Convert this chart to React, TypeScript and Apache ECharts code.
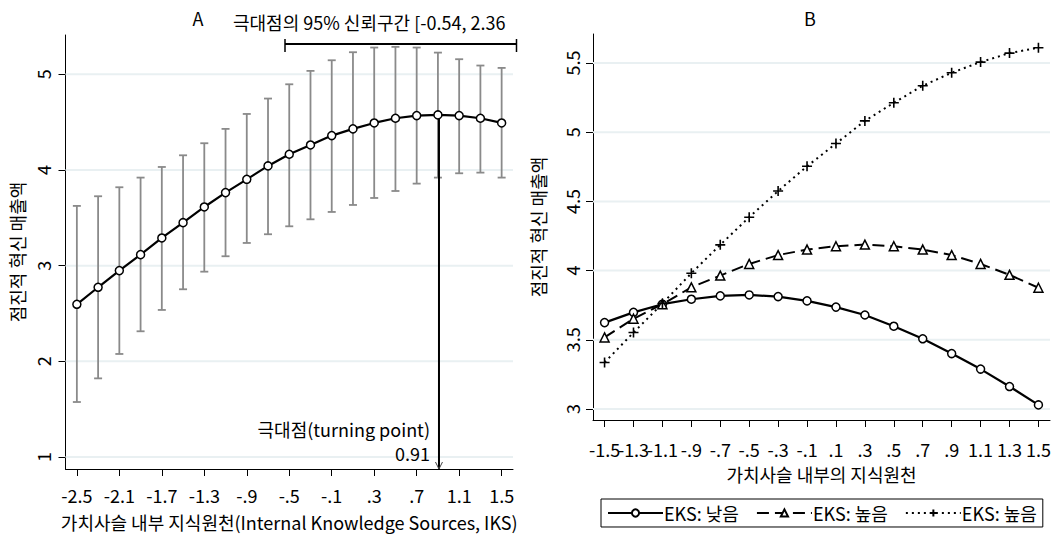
import React, { useEffect, useRef } from 'react';
import * as echarts from 'echarts';

// ---------- Panel A data ----------
const iksA = [-2.5, -2.3, -2.1, -1.9, -1.7, -1.5, -1.3, -1.1, -0.9, -0.7, -0.5, -0.3, -0.1, 0.1, 0.3, 0.5, 0.7, 0.9, 1.1, 1.3, 1.5];
const salesA = [2.596, 2.774, 2.948, 3.115, 3.289, 3.449, 3.613, 3.763, 3.902, 4.042, 4.164, 4.261, 4.359, 4.429, 4.491, 4.54, 4.568, 4.575, 4.568, 4.54, 4.491];
const upperA = [3.624, 3.725, 3.819, 3.92, 4.031, 4.153, 4.279, 4.429, 4.585, 4.746, 4.895, 5.035, 5.146, 5.23, 5.279, 5.286, 5.279, 5.226, 5.157, 5.091, 5.066];
const lowerA = [1.575, 1.822, 2.077, 2.314, 2.537, 2.753, 2.937, 3.098, 3.237, 3.328, 3.411, 3.484, 3.561, 3.634, 3.707, 3.78, 3.857, 3.92, 3.965, 3.972, 3.92];
const xTicksA = [-2.5, -2.1, -1.7, -1.3, -0.9, -0.5, -0.1, 0.3, 0.7, 1.1, 1.5];
const yTicksA = [1, 2, 3, 4, 5];
const turningPoint = 0.91;
const turningValue = 4.575;
const ciTurning = [-0.54, 2.36];

// ---------- Panel B data ----------
const iksB = [-1.5, -1.3, -1.1, -0.9, -0.7, -0.5, -0.3, -0.1, 0.1, 0.3, 0.5, 0.7, 0.9, 1.1, 1.3, 1.5];
const eksLow = [3.624, 3.698, 3.757, 3.793, 3.817, 3.824, 3.812, 3.781, 3.736, 3.679, 3.598, 3.507, 3.4, 3.288, 3.162, 3.029];
const eksHigh = [3.517, 3.652, 3.757, 3.879, 3.964, 4.048, 4.112, 4.152, 4.176, 4.188, 4.176, 4.152, 4.112, 4.048, 3.969, 3.876];
const eksHigh2 = [3.336, 3.552, 3.762, 3.981, 4.186, 4.386, 4.575, 4.754, 4.918, 5.082, 5.213, 5.336, 5.43, 5.507, 5.572, 5.611];
const xTicksB = [-1.5, -1.3, -1.1, -0.9, -0.7, -0.5, -0.3, -0.1, 0.1, 0.3, 0.5, 0.7, 0.9, 1.1, 1.3, 1.5];
const yTicksB = [3, 3.5, 4, 4.5, 5, 5.5];
const legendLabels = ['EKS: 낮음', 'EKS: 높음', 'EKS: 높음'];

const FONT = '"Noto Sans CJK KR", "Noto Sans", sans-serif';
const FS = 18;

const fmtX = (v: number) => v.toFixed(1).replace(/^(-?)0\./, '$1.');

function gridLineSeries(ticks: number[], idx: number) {
  return {
    type: 'custom',
    xAxisIndex: idx,
    yAxisIndex: idx,
    z: 1,
    silent: true,
    clip: false,
    data: ticks.map((t) => [0, t]),
    encode: { x: 0, y: 1 },
    renderItem: (params: any, api: any) => {
      const cs = params.coordSys;
      const y = api.coord([api.value(0), api.value(1)])[1];
      return {
        type: 'line',
        shape: { x1: cs.x, y1: y, x2: cs.x + cs.width, y2: y },
        style: { stroke: '#e9f0f2', lineWidth: 2 },
      };
    },
  };
}

// x tick labels drawn as text so that overlapping labels are all kept (as in the original)
function xLabelSeries(ticks: number[], idx: number, gap: number) {
  return {
    type: 'custom',
    xAxisIndex: idx,
    yAxisIndex: idx,
    z: 5,
    silent: true,
    clip: false,
    data: ticks.map((t) => [t, 3]),
    encode: { x: 0, y: 1 },
    renderItem: (params: any, api: any) => {
      const cs = params.coordSys;
      const x = api.coord([api.value(0), api.value(1)])[0];
      return {
        type: 'text',
        x,
        y: cs.y + cs.height + gap,
        style: { text: fmtX(api.value(0)), fill: '#000', fontSize: FS, fontFamily: FONT, align: 'center', verticalAlign: 'middle' },
      };
    },
  };
}

function axisCommon() {
  return {
    axisLine: { show: true, onZero: false, lineStyle: { color: '#000', width: 1 } },
    splitLine: { show: false },
    nameTextStyle: { fontSize: FS, color: '#000', fontFamily: FONT },
  };
}

function labelCommon() {
  return {
    fontSize: FS,
    color: '#000',
    fontFamily: FONT,
    showMinLabel: true,
    showMaxLabel: true,
    hideOverlap: false,
  };
}

export default function App() {
  const ref = useRef<HTMLDivElement>(null);
  useEffect(() => {
    if (!ref.current) return;
    const chart = echarts.init(ref.current, null, { renderer: 'svg' });
    const black = '#000';
    const option: any = {
      animation: false,
      backgroundColor: '#fff',
      textStyle: { fontFamily: FONT },
      grid: [
        { left: 65.5, top: 35, width: 447.5, height: 434, containLabel: false, outerBoundsMode: 'none' },
        { left: 593, top: 34, width: 457, height: 386, containLabel: false, outerBoundsMode: 'none' },
      ],
      graphic: [
        { type: 'text', x: 198, y: 18, style: { text: 'A', fill: black, fontSize: FS, fontFamily: FONT, align: 'center', verticalAlign: 'middle' } },
        { type: 'text', x: 810, y: 18, style: { text: 'B', fill: black, fontSize: FS, fontFamily: FONT, align: 'center', verticalAlign: 'middle' } },
      ],
      xAxis: [
        {
          ...axisCommon(),
          type: 'value',
          gridIndex: 0,
          min: -2.607,
          max: 1.607,
          axisTick: { show: true, length: 7, customValues: xTicksA, lineStyle: { color: black } },
          axisLabel: { ...labelCommon(), customValues: xTicksA, formatter: fmtX, margin: 17 },
          name: '가치사슬 내부 지식원천(Internal Knowledge Sources, IKS)',
          nameLocation: 'middle',
          nameGap: 44,
        },
        {
          ...axisCommon(),
          type: 'value',
          gridIndex: 1,
          min: -1.58,
          max: 1.58,
          axisTick: { show: true, length: 7, customValues: xTicksB, lineStyle: { color: black } },
          axisLabel: { show: false },
          name: '가치사슬 내부의 지식원천',
          nameLocation: 'middle',
          nameGap: 45,
        },
      ],
      yAxis: [
        {
          ...axisCommon(),
          type: 'value',
          gridIndex: 0,
          min: 0.875,
          max: 5.41,
          axisTick: { show: true, length: 7, customValues: yTicksA, lineStyle: { color: black } },
          axisLabel: { ...labelCommon(), customValues: yTicksA, rotate: 90, margin: 14 },
          name: '점진적 혁신 매출액',
          nameLocation: 'middle',
          nameRotate: 90,
          nameGap: 40,
        },
        {
          ...axisCommon(),
          type: 'value',
          gridIndex: 1,
          min: 2.92,
          max: 5.71,
          axisTick: { show: true, length: 7, customValues: yTicksB, lineStyle: { color: black } },
          axisLabel: { ...labelCommon(), customValues: yTicksB, rotate: 90, margin: 12 },
          name: '점진적 혁신 매출액',
          nameLocation: 'middle',
          nameRotate: 90,
          nameGap: 46,
        },
      ],
      legend: {
        left: 601,
        top: 499,
        padding: [5, 6],
        borderColor: black,
        borderWidth: 1,
        itemWidth: 55,
        itemHeight: 9,
        itemGap: 17,
        data: ['s1', 's2', 's3'],
        formatter: (name: string) => legendLabels[Number(name.slice(1)) - 1],
        textStyle: { fontSize: FS, color: black, fontFamily: FONT, padding: [0, 0, 0, -4] },
      },
      series: [
        gridLineSeries(yTicksA, 0),
        gridLineSeries(yTicksB, 1),
        xLabelSeries(xTicksB, 1, 29),
        {
          type: 'custom',
          xAxisIndex: 0,
          yAxisIndex: 0,
          z: 2,
          silent: true,
          data: iksA.map((x, i) => [x, lowerA[i], upperA[i]]),
          encode: { x: 0, y: [1, 2] },
          renderItem: (params: any, api: any) => {
            const x = api.value(0);
            const pL = api.coord([x, api.value(1)]);
            const pH = api.coord([x, api.value(2)]);
            const w = 4;
            const style = { stroke: '#8a8a8a', lineWidth: 1.8 };
            return {
              type: 'group',
              children: [
                { type: 'line', shape: { x1: pH[0], y1: pH[1], x2: pL[0], y2: pL[1] }, style },
                { type: 'line', shape: { x1: pH[0] - w, y1: pH[1], x2: pH[0] + w, y2: pH[1] }, style },
                { type: 'line', shape: { x1: pL[0] - w, y1: pL[1], x2: pL[0] + w, y2: pL[1] }, style },
              ],
            };
          },
        },
        {
          // turning point arrow and labels
          type: 'custom',
          xAxisIndex: 0,
          yAxisIndex: 0,
          z: 3,
          silent: true,
          clip: false,
          data: [[turningPoint, turningValue]],
          encode: { x: 0, y: 1 },
          renderItem: (params: any, api: any) => {
            const cs = params.coordSys;
            const p = api.coord([api.value(0), api.value(1)]);
            const bottom = cs.y + cs.height;
            const ts = { fill: black, fontSize: FS, fontFamily: FONT, align: 'right', verticalAlign: 'middle' };
            return {
              type: 'group',
              children: [
                { type: 'line', shape: { x1: p[0], y1: p[1], x2: p[0], y2: bottom }, style: { stroke: black, lineWidth: 2 } },
                { type: 'polyline', shape: { points: [[p[0] - 3.5, bottom - 7], [p[0], bottom], [p[0] + 3.5, bottom - 7]] }, style: { stroke: '#444', lineWidth: 1, fill: 'none' } },
                { type: 'text', x: p[0] - 9, y: bottom - 40, style: { ...ts, text: '극대점(turning point)' } },
                { type: 'text', x: p[0] - 9, y: bottom - 16, style: { ...ts, text: turningPoint.toFixed(2) } },
              ],
            };
          },
        },
        {
          // 95% CI bracket of the turning point
          type: 'custom',
          xAxisIndex: 0,
          yAxisIndex: 0,
          z: 3,
          silent: true,
          clip: false,
          data: [[ciTurning[0], ciTurning[1], turningValue]],
          encode: { x: [0, 1], y: 2 },
          renderItem: (params: any, api: any) => {
            const cs = params.coordSys;
            const yv = api.value(2);
            const x1 = api.coord([api.value(0), yv])[0];
            const x2 = Math.min(api.coord([api.value(1), yv])[0], cs.x + cs.width + 3.5);
            const y = cs.y + 9;
            const st = { stroke: black, lineWidth: 2 };
            return {
              type: 'group',
              children: [
                { type: 'line', shape: { x1, y1: y, x2, y2: y }, style: st },
                { type: 'line', shape: { x1, y1: y - 5, x2: x1, y2: y + 8 }, style: { ...st, lineWidth: 1.5 } },
                { type: 'line', shape: { x1: x2, y1: y - 5, x2, y2: y + 8 }, style: { ...st, lineWidth: 1.5 } },
                {
                  type: 'text',
                  x: x1 - 52,
                  y: y - 22,
                  style: {
                    text: `극대점의 95% 신뢰구간 [${ciTurning[0].toFixed(2)}, ${ciTurning[1].toFixed(2)}`,
                    fill: black,
                    fontSize: FS,
                    fontFamily: FONT,
                    align: 'left',
                    verticalAlign: 'middle',
                  },
                },
              ],
            };
          },
        },
        {
          type: 'line',
          xAxisIndex: 0,
          yAxisIndex: 0,
          z: 4,
          data: iksA.map((x, i) => [x, salesA[i]]),
          symbol: 'circle',
          symbolSize: 8,
          showAllSymbol: true,
          lineStyle: { color: black, width: 2.2 },
          itemStyle: { color: '#fff', borderColor: black, borderWidth: 1.5 },
        },
        {
          name: 's1',
          type: 'line',
          xAxisIndex: 1,
          yAxisIndex: 1,
          z: 4,
          data: iksB.map((x, i) => [x, eksLow[i]]),
          symbol: 'circle',
          symbolSize: 8,
          showAllSymbol: true,
          lineStyle: { color: black, width: 2.2 },
          itemStyle: { color: '#fff', borderColor: black, borderWidth: 1.5 },
        },
        {
          name: 's2',
          type: 'line',
          xAxisIndex: 1,
          yAxisIndex: 1,
          z: 4,
          data: iksB.map((x, i) => [x, eksHigh[i]]),
          symbol: 'triangle',
          symbolSize: 9,
          showAllSymbol: true,
          lineStyle: { color: black, width: 2, type: [12, 6] },
          itemStyle: { color: '#fff', borderColor: black, borderWidth: 1.5 },
        },
        {
          name: 's3',
          type: 'line',
          xAxisIndex: 1,
          yAxisIndex: 1,
          z: 4,
          data: iksB.map((x, i) => [x, eksHigh2[i]]),
          symbol: 'path://M0,5L10,5M5,0L5,10',
          symbolSize: 10,
          showAllSymbol: true,
          lineStyle: { color: black, width: 2, type: [2, 4] },
          itemStyle: { color: black, borderColor: black, borderWidth: 1.6 },
        },
      ],
    };
    chart.setOption(option);
    return () => chart.dispose();
  }, []);
  return <div ref={ref} style={{ position: 'fixed', left: 0, top: 0, width: 1057, height: 534, background: '#fff' }} />;
}
